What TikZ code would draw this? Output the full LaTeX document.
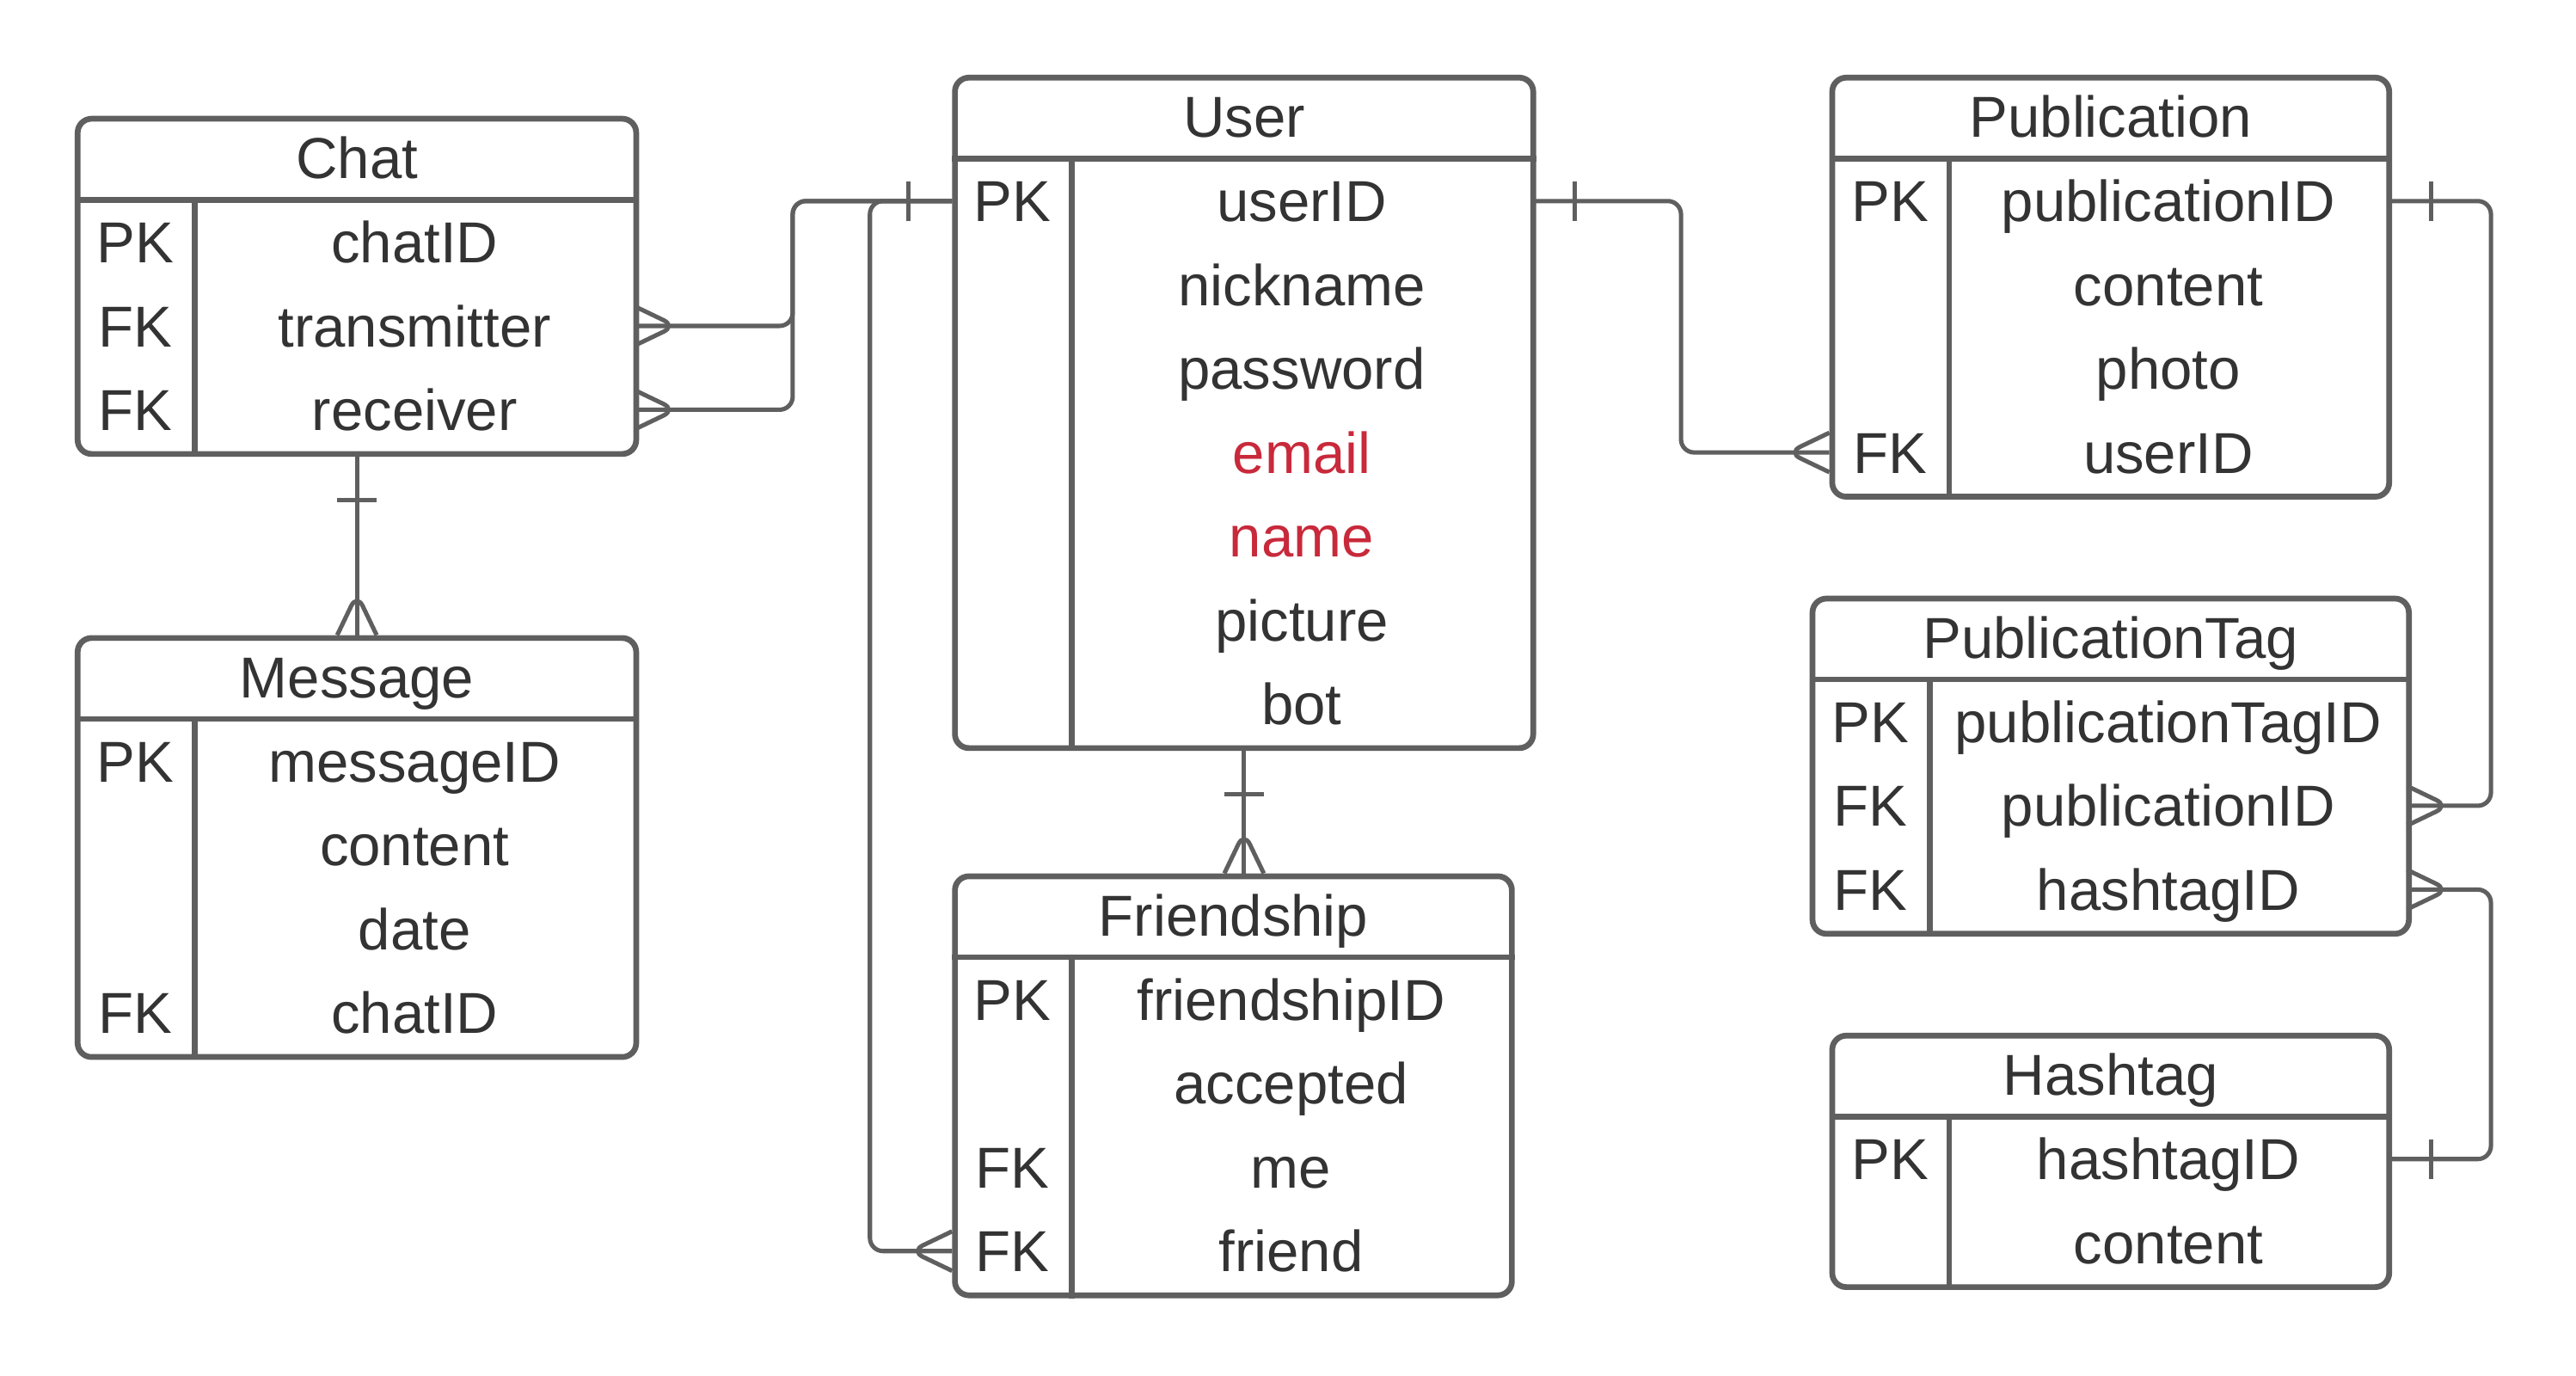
\documentclass[tikz,border=0pt]{standalone}
\usepackage{fontspec}
\setmainfont{Liberation Sans}
\usepackage{xcolor}
\usepackage{tikz}
\usetikzlibrary{arrows.meta,positioning}

\definecolor{linegray}{HTML}{5F5F5F}
\definecolor{textgray}{HTML}{333333}
\definecolor{attrred}{HTML}{C8293B}

\newcommand{\ertable}[6]{%
    \node[tbl, minimum width=#3cm, minimum height={(#4+1)*1.02cm}] (#1) at (#2) {};
    \node[hdr] (#1-t) at ([yshift=-0.51cm]#1.north) {#5};
    \draw[tblline] ([yshift=-1.02cm]#1.north west) -- ([yshift=-1.02cm]#1.north east);
    \draw[tblline] ([xshift=1.46cm, yshift=-1.02cm]#1.north west) -- ([xshift=1.46cm]#1.south west);
    \foreach \k/\f [count=\i] in {#6} {
        \node[keycell] (#1-k\i) at ([yshift=-\i*1.02cm]#1.north west) {\k};
        \node[fieldcell, minimum width=#3cm-1.46cm] (#1-\i)
            at ([xshift=1.46cm, yshift=-\i*1.02cm]#1.north west) {\f};
    }
}

\begin{document}
\begin{tikzpicture}[
        tbl/.style={draw=linegray, line width=2pt, rounded corners=0.17cm,
                    anchor=north west, inner sep=0pt},
        cell/.style={inner sep=0pt, minimum height=1.02cm, text height=14.3pt,
                     text depth=0pt, text=textgray, font=\fontsize{20}{24}\selectfont},
        hdr/.style={cell},
        keycell/.style={cell, anchor=north west, minimum width=1.46cm},
        fieldcell/.style={cell, anchor=north west},
        tblline/.style={draw=linegray, line width=2pt},
        conn/.style={draw=linegray, line width=1.5pt, rounded corners=0.16cm},
        many/.pic={\draw[conn] (0,0.24) -- (0.5,0) -- (0,-0.24);},
        one/.pic={\draw[conn] (0.53,0.24) -- (0.53,-0.24);}
    ]
    \fill[white] (0,0) rectangle (31.36,-16.74);

    \ertable{chat}{0.91,-1.41}{6.80}{3}{Chat}{PK/chatID, FK/transmitter, FK/receiver}
    \ertable{msg}{0.91,-7.73}{6.80}{4}{Message}{PK/messageID, {}/content, {}/date, FK/chatID}
    \ertable{user}{11.59,-0.91}{7.04}{7}{User}{PK/userID, {}/nickname, {}/password,
        {}/\textcolor{attrred}{email}, {}/\textcolor{attrred}{name}, {}/picture, {}/bot}
    \ertable{friend}{11.59,-10.63}{6.78}{4}{Friendship}{PK/friendshipID, {}/accepted, FK/me, FK/friend}
    \ertable{pub}{22.27,-0.91}{6.78}{4}{Publication}{PK/publicationID, {}/content, {}/photo, FK/userID}
    \ertable{ptag}{22.03,-7.25}{7.26}{3}{PublicationTag}{PK/publicationTagID, FK/publicationID, FK/hashtagID}
    \ertable{hash}{22.27,-12.57}{6.78}{2}{Hashtag}{PK/hashtagID, {}/content}

    \draw[conn] (chat.south) -- (msg.north);
    \draw[conn] (user-k1.west) -- ++(-1.94,0) |- (chat-2.east);
    \draw[conn] (user-k1.west) -- ++(-1.94,0) |- (chat-3.east);
    \draw[conn] (user-k1.west) -- ++(-1.0,0) |- (friend-k4.west);
    \draw[conn] (user.south) -- (user.south |- friend.north);
    \draw[conn] (user-1.east) -- ++(1.82,0) |- (pub-k4.west);
    \draw[conn] (pub-1.east) -- ++(1.26,0) |- (ptag-2.east);
    \draw[conn] (hash-1.east) -- ++(1.26,0) |- (ptag-3.east);

    \pic at (chat-2.east) {many};
    \pic at (chat-3.east) {many};
    \pic[rotate=180] at (user-k1.west) {one};
    \pic[rotate=180] at (friend-k4.west) {many};
    \pic[rotate=-90] at (chat.south) {one};
    \pic[rotate=90] at (msg.north) {many};
    \pic[rotate=-90] at (user.south) {one};
    \pic[rotate=90] at (user.south |- friend.north) {many};
    \pic at (user-1.east) {one};
    \pic[rotate=180] at (pub-k4.west) {many};
    \pic at (pub-1.east) {one};
    \pic at (ptag-2.east) {many};
    \pic at (ptag-3.east) {many};
    \pic at (hash-1.east) {one};
\end{tikzpicture}
\end{document}
